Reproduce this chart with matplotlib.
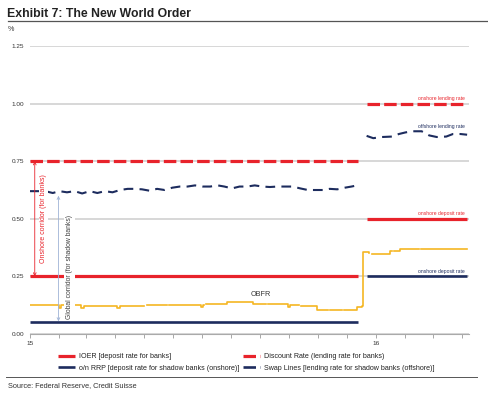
import pandas as pd
import numpy as np
import matplotlib.pyplot as plt
import matplotlib.dates as mdates
from matplotlib.lines import Line2D

plt.rcParams['font.family'] = ['Liberation Sans', 'DejaVu Sans']
plt.rcParams['lines.scale_dashes'] = False

RED = '#e8232b'
NAVY = '#1d2c5e'
GOLD = '#f5b622'
GRID = '#cdcdcd'

# policy rates: before the Dec-2015 hike / after it
before = ['2015-01-01', '2015-12-13']
after = ['2015-12-22', '2016-04-06']
ioer = [0.25, 0.50]
discount = [0.75, 1.00]
rrp = [0.05, 0.25]

# swap lines (offshore lending rate)
swap_dates_15 = ['2015-01-01', '2015-01-09', '2015-01-17', '2015-01-25', '2015-02-01', '2015-02-09',
                 '2015-02-17', '2015-02-25', '2015-03-05', '2015-03-13', '2015-03-21', '2015-03-29',
                 '2015-04-06', '2015-04-14', '2015-04-21', '2015-04-29', '2015-05-07', '2015-05-15',
                 '2015-05-23', '2015-05-31', '2015-06-08', '2015-06-16', '2015-06-24', '2015-07-02',
                 '2015-07-10', '2015-07-18', '2015-07-25', '2015-08-02', '2015-08-10', '2015-08-18',
                 '2015-08-26', '2015-09-03', '2015-09-11', '2015-09-19', '2015-09-27', '2015-10-05',
                 '2015-10-13', '2015-10-21', '2015-10-29', '2015-11-06', '2015-11-13', '2015-11-21',
                 '2015-11-29', '2015-12-06', '2015-12-12']
swap_vals_15 = [0.62, 0.62, 0.62, 0.612, 0.62, 0.615,
                0.62, 0.61, 0.62, 0.612, 0.62, 0.615,
                0.625, 0.63, 0.63, 0.628, 0.622, 0.63,
                0.625, 0.635, 0.64, 0.64, 0.645, 0.64,
                0.64, 0.645, 0.64, 0.632, 0.64, 0.64,
                0.645, 0.64, 0.638, 0.64, 0.64, 0.64,
                0.632, 0.625, 0.625, 0.625, 0.63, 0.628,
                0.635, 0.64, 0.645]
swap_dates_16 = ['2015-12-22', '2015-12-29', '2016-01-07', '2016-01-18', '2016-01-25', '2016-02-01',
                 '2016-02-08', '2016-02-18', '2016-02-26', '2016-03-05', '2016-03-15', '2016-03-22',
                 '2016-03-30', '2016-04-06']
swap_vals_16 = [0.86, 0.85, 0.855, 0.857, 0.868, 0.875,
                0.88, 0.88, 0.862, 0.855, 0.857, 0.868,
                0.868, 0.865]

# OBFR (NaN = missing day)
obfr_dates = ['2015-01-01', '2015-01-28', '2015-02-01', '2015-02-03', '2015-02-21', '2015-02-24',
              '2015-02-27', '2015-04-01', '2015-04-03', '2015-04-06', '2015-04-30', '2015-05-01',
              '2015-05-04', '2015-05-25', '2015-05-26', '2015-05-28', '2015-06-28', '2015-06-30',
              '2015-07-02', '2015-07-03', '2015-07-06', '2015-07-25', '2015-07-28', '2015-08-20',
              '2015-08-24', '2015-09-06', '2015-09-07', '2015-09-09', '2015-09-30', '2015-10-02',
              '2015-10-11', '2015-10-12', '2015-10-14', '2015-10-31', '2015-11-02', '2015-11-10',
              '2015-11-11', '2015-11-13', '2015-11-25', '2015-11-26', '2015-11-28', '2015-12-08',
              '2015-12-12', '2015-12-17', '2015-12-18', '2015-12-24', '2015-12-25', '2015-12-28',
              '2016-01-05', '2016-01-13', '2016-01-16', '2016-01-18', '2016-01-20', '2016-01-26',
              '2016-02-14', '2016-02-15', '2016-02-17', '2016-04-06']
obfr_vals = [0.125, 0.125, 0.115, 0.125, 0.125, 0.113,
             0.123, 0.123, 0.115, 0.123, 0.123, np.nan,
             0.124, 0.124, np.nan, 0.125, 0.125, 0.118,
             0.128, np.nan, 0.13, 0.13, 0.14, 0.14,
             0.13, 0.13, np.nan, 0.13, 0.118, 0.125,
             0.125, np.nan, 0.122, 0.105, 0.105, 0.105,
             np.nan, 0.105, 0.105, np.nan, 0.105, 0.105,
             0.118, 0.12, 0.355, 0.352, np.nan, 0.347,
             0.347, 0.347, 0.36, np.nan, 0.362, 0.368,
             0.368, np.nan, 0.368, 0.368]

yticks = [0.0, 0.25, 0.50, 0.75, 1.00, 1.25]
side_labels = [('onshore lending rate', 1.00, RED),
               ('offshore lending rate', 0.878, NAVY),
               ('onshore deposit rate', 0.50, RED),
               ('onshore deposit rate', 0.25, NAVY)]

d = pd.to_datetime

fig = plt.figure(figsize=(4.88, 3.94), dpi=100)
ax = fig.add_axes([0.0615, 0.1523, 0.8996, 0.7309])

for seg, k in [(before, 0), (after, 1)]:
    ax.plot(d(seg), [ioer[k]] * 2, color=RED, lw=2.3, solid_capstyle='butt', zorder=2)
    ax.plot(d(seg), [discount[k]] * 2, color=RED, lw=2.3, dashes=(9, 3), zorder=2)
    ax.plot(d(seg), [rrp[k]] * 2, color=NAVY, lw=1.9, solid_capstyle='butt', zorder=2)

ax.plot(d(swap_dates_15), swap_vals_15, color=NAVY, lw=1.5, dashes=(7, 4.5), zorder=2)
ax.plot(d(swap_dates_16), swap_vals_16, color=NAVY, lw=1.5, dashes=(7, 4.5), zorder=2)
ax.plot(d(obfr_dates), obfr_vals, color=GOLD, lw=1.2, drawstyle='steps-post', zorder=2)

ax.text(d('2015-09-01'), 0.172, 'OBFR', fontsize=5.2, color='#333333', ha='center', va='center')
for txt, y, c in side_labels:
    ax.text(d('2016-04-04'), y + 0.012, txt, fontsize=3.6, color=c, ha='right', va='bottom')

# corridors
ax.annotate('', xy=(d('2015-01-06'), 0.25), xytext=(d('2015-01-06'), 0.75),
            arrowprops=dict(arrowstyle='<->', color=RED, lw=0.6, shrinkA=0, shrinkB=0,
                            mutation_scale=5), zorder=4)
ax.text(d('2015-01-15'), 0.503, 'Onshore corridor (for banks)', rotation=90, fontsize=5.0,
        color=RED, ha='center', va='center', zorder=3,
        bbox=dict(fc='white', ec='none', pad=0.6))
ax.annotate('', xy=(d('2015-01-31'), 0.055), xytext=(d('2015-01-31'), 0.60),
            arrowprops=dict(arrowstyle='<->', color='#9fb3d6', lw=0.6, shrinkA=0, shrinkB=0,
                            mutation_scale=5), zorder=4)
ax.text(d('2015-02-12'), 0.29, 'Global corridor (for shadow banks)', rotation=90, fontsize=4.9,
        color='#404040', ha='center', va='center', zorder=3,
        bbox=dict(fc='white', ec='none', pad=1.5))

ax.set_xlim(d('2015-01-01'), d('2016-04-08'))
ax.set_ylim(0, 1.25)
ax.set_yticks(yticks)
ax.set_yticklabels([f'{v:.2f}' for v in yticks])
ax.yaxis.grid(True, color=GRID, lw=1.1)
ax.set_axisbelow(True)
ax.xaxis.set_major_locator(mdates.MonthLocator())
ax.xaxis.set_major_formatter(plt.FuncFormatter(
    lambda v, p: mdates.num2date(v).strftime('%y') if mdates.num2date(v).month == 1 else ''))
ax.tick_params(axis='y', length=0, labelsize=4.6, pad=4, labelcolor='#333333')
ax.tick_params(axis='x', length=3, width=0.6, color='#999999', labelsize=4.6, pad=2, labelcolor='#333333')
for s in ['top', 'left', 'right']:
    ax.spines[s].set_visible(False)
ax.spines['bottom'].set_color('#aaaaaa')
ax.spines['bottom'].set_linewidth(0.8)

# legend, two columns
h1 = [Line2D([], [], color=RED, lw=2.3, solid_capstyle='butt'),
      Line2D([], [], color=NAVY, lw=1.9, solid_capstyle='butt')]
l1 = ['IOER [deposit rate for banks]', 'o/n RRP [deposit rate for shadow banks (onshore)]']
h2 = [Line2D([], [], color=RED, lw=2.3, dashes=(9, 3)), Line2D([], [], color=NAVY, lw=1.9, dashes=(9, 3))]
l2 = ['Discount Rate (lending rate for banks)', 'Swap Lines [lending rate for shadow banks (offshore)]']
for h, l, x0 in [(h1, l1, 0.119), (h2, l2, 0.498)]:
    fig.legend(h, l, loc='center left', bbox_to_anchor=(x0, 0.080), frameon=False, fontsize=5.1,
               handlelength=2.4, handletextpad=0.5, labelspacing=0.6, borderpad=0, borderaxespad=0,
               labelcolor='#222222')

fig.text(0.0143, 0.9645, 'Exhibit 7: The New World Order', fontsize=8.8, fontweight='bold',
         color='#222222', va='center')
fig.add_artist(Line2D([0.0164, 1.0], [0.9467, 0.9467], color='#555555', lw=0.9))
fig.text(0.0164, 0.924, '%', fontsize=5.2, color='#333333', va='center')
fig.add_artist(Line2D([0.0123, 0.977], [0.0424, 0.0424], color='#555555', lw=0.7))
fig.text(0.0164, 0.021, 'Source: Federal Reserve, Credit Suisse', fontsize=5.3, color='#333333',
         va='center')

fig.savefig('out.png', dpi=100)
